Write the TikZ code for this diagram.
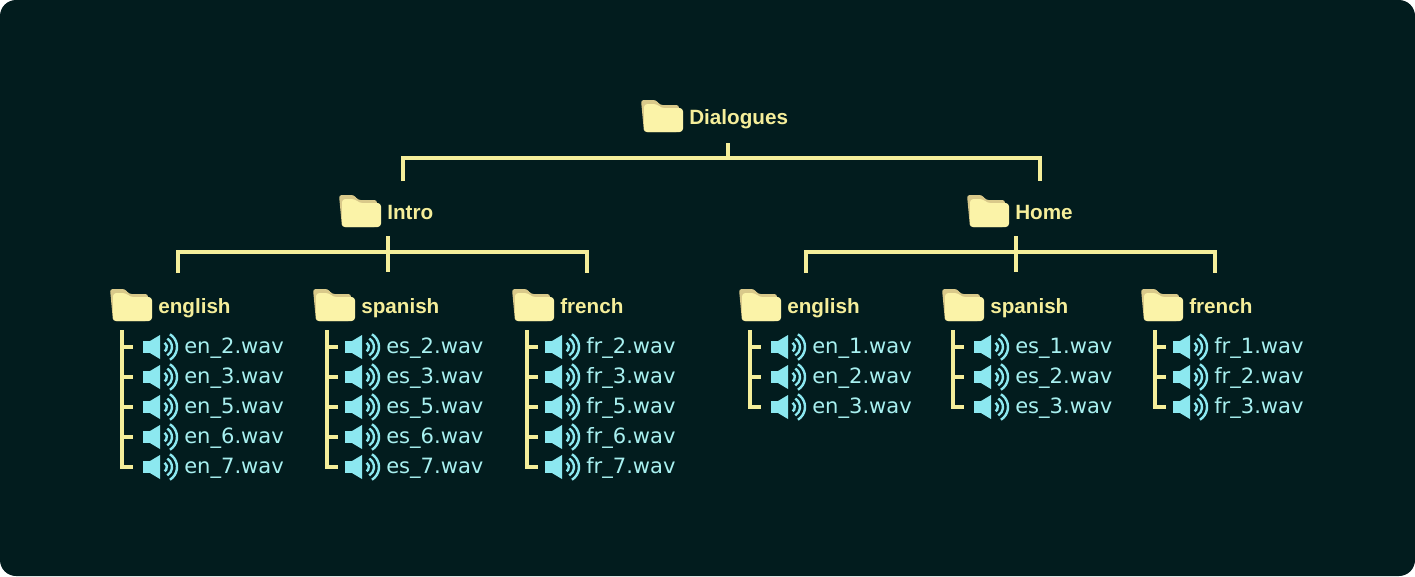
\documentclass[tikz,border=0pt]{standalone}
\usepackage{fontspec}
\setmainfont{Liberation Sans}
\newfontfamily\filefont{DejaVu Sans}
\definecolor{bg}{HTML}{021C1E}
\definecolor{yl}{HTML}{F5EE9A}
\definecolor{fold}{HTML}{FBF3A8}
\definecolor{foldb}{HTML}{D9C98A}
\definecolor{cy}{HTML}{A8F0F0}
\definecolor{spk}{HTML}{8CE8F0}
\tikzset{
  conn/.style={draw=yl,line width=2.4pt},
  lbl/.style={text=yl,font=\bfseries\fontsize{15.5}{17}\selectfont,anchor=base west,inner sep=0pt},
  fname/.style={text=cy,font=\filefont\fontsize{15.8}{17}\selectfont,anchor=base west,inner sep=0pt},
}
\newcommand\folder[4]{% x y text name  (x = folder left, y = center)
  \fill[foldb,rounded corners=2pt] (#1,#2-17) -- (#1+15,#2-17) -- (#1+19,#2-12) -- (#1+38,#2-12) -- (#1+38,#2+15) -- (#1+3,#2+15) -- cycle;
  \fill[fold,rounded corners=2.5pt] (#1+3,#2-13) -- (#1+16,#2-13) -- (#1+20,#2-9) -- (#1+42,#2-9) -- (#1+42,#2+15) -- (#1+3,#2+15) -- cycle;
  \node[lbl] (#4) at (#1+48,#2+7) {#3};}
\newcommand\wav[4]{% x(icon left) y text name
  \fill[spk] (#1,#2-6) rectangle (#1+7,#2+6);
  \fill[spk] (#1+7,#2-6) -- (#1+17,#2-12) -- (#1+17,#2+12) -- (#1+7,#2+6) -- cycle;
  \foreach \r in {5,10,15}{\draw[spk,line width=1.8pt] ([shift={(-58:\r)}]#1+19,#2) arc (-58:58:\r);}
  \node[fname] (#4) at (#1+41,#2+6) {#3};}
\begin{document}
\begin{tikzpicture}[x=0.75pt,y=-0.75pt]
\useasboundingbox (0,0) rectangle (1415,576);
\fill[bg,rounded corners=12pt] (0,0) rectangle (1415,576);
\folder{641}{117}{Dialogues}{dia}
\folder{339}{212}{Intro}{intro}
\folder{967}{212}{Home}{home}
\coordinate (d1) at (728,143); \coordinate (d2) at (728,158);
\coordinate (dl) at (403,181); \coordinate (dr) at (1040,181);
\draw[conn] (d1)--(d2);
\draw[conn] (dl)|-(d2)-|(dr);
\foreach \cx/\l/\r/\nm in {388/178/587/i,1016/806/1215/h}{
  \coordinate (\nm t) at (\cx,236); \coordinate (\nm b) at (\cx,272);
  \coordinate (\nm m) at (\cx,252);
  \coordinate (\nm l) at (\l,273); \coordinate (\nm r) at (\r,273);
  \draw[conn] (\nm t)--(\nm b);
  \draw[conn] (\nm l)|-(\nm m)-|(\nm r);
}
\folder{110}{306}{english}{ie}
\folder{313}{306}{spanish}{is}
\folder{512}{306}{french}{if}
\folder{739}{306}{english}{he}
\folder{942}{306}{spanish}{hs}
\folder{1141}{306}{french}{hf}
\foreach \lx/\ix/\pre/\nm in {122/143/en/ie,327/345/es/is,527/545/fr/if}{
  \coordinate (\nm top) at (\lx,330);
  \coordinate (\nm bot) at (\lx,467);
  \coordinate (\nm end) at (\lx+11,467);
  \draw[conn] (\nm top)--(\nm bot)--(\nm end);
  \foreach \n [count=\k from 0] in {2,3,5,6}{
    \coordinate (\nm a\k) at (\lx,347+30*\k); \coordinate (\nm b\k) at (\lx+11,347+30*\k);
    \draw[conn] (\nm a\k)--(\nm b\k);}
  \foreach \n [count=\k from 0] in {2,3,5,6,7}{
    \wav{\ix}{347+30*\k}{\pre\_\n.wav}{\nm f\k}}
}
\foreach \lx/\ix/\pre/\nm in {750/771/en/he,953/974/es/hs,1155/1173/fr/hf}{
  \coordinate (\nm top) at (\lx,330);
  \coordinate (\nm bot) at (\lx,407);
  \coordinate (\nm end) at (\lx+11,407);
  \draw[conn] (\nm top)--(\nm bot)--(\nm end);
  \foreach \n [count=\k from 0] in {1,2}{
    \coordinate (\nm a\k) at (\lx,347+30*\k); \coordinate (\nm b\k) at (\lx+11,347+30*\k);
    \draw[conn] (\nm a\k)--(\nm b\k);}
  \foreach \n [count=\k from 0] in {1,2,3}{
    \wav{\ix}{347+30*\k}{\pre\_\n.wav}{\nm f\k}}
}
\end{tikzpicture}
\end{document}
